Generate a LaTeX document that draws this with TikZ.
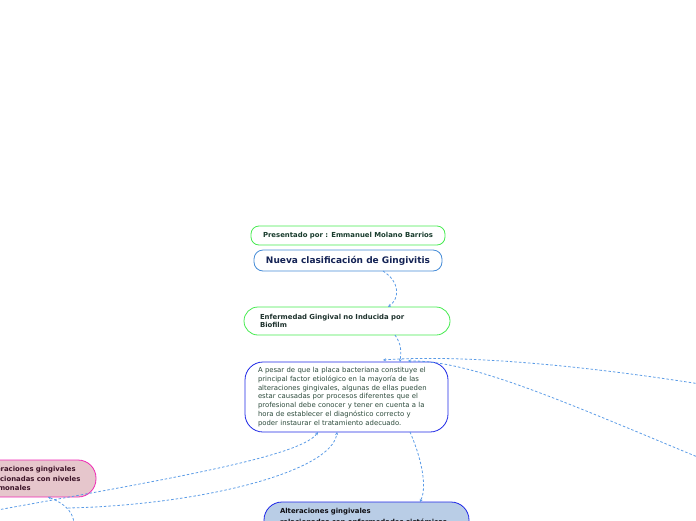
\documentclass[tikz,border=0pt]{standalone}
\usepackage{fontspec}
\setmainfont{DejaVu Sans}
\usetikzlibrary{arrows.meta}
\begin{document}
\begin{tikzpicture}[x=1pt,y=-1pt,line width=0.8pt,
  every node/.style={outer sep=0pt, inner sep=0pt},
  greenbox/.style={draw={rgb,255:red,70;green,235;blue,80},fill=white,rounded corners=8pt},
  linkline/.style={draw={rgb,255:red,90;green,155;blue,230},dash pattern=on 2.5pt off 2pt,-{Stealth[length=3pt,width=3pt]}},
  bodytext/.style={align=left,font=\fontsize{6.9}{8.7}\selectfont}]
\useasboundingbox (0,0) rectangle (696,520);
\clip (0,0) rectangle (696,520);
% titulo
\node[greenbox,minimum width=194pt,minimum height=19pt,font=\bfseries\fontsize{6.9}{8}\selectfont,
  text={rgb,255:red,25;green,60;blue,45}] (autor) at (348,235.5) {Presentado por : Emmanuel Molano Barrios};
\node[draw={rgb,255:red,70;green,140;blue,215},fill=white,rounded corners=9pt,minimum width=188pt,minimum height=21pt,
  font=\bfseries\fontsize{9}{10}\selectfont,text={rgb,255:red,20;green,35;blue,85}] (tema) at (348,260.5) {Nueva clasificación de Gingivitis};
% ramas
\node[greenbox,rounded corners=14pt,minimum width=206pt,minimum height=28pt,inner xsep=16pt,text width=174pt,
  align=left,font=\bfseries\fontsize{6.9}{8.8}\selectfont,text={rgb,255:red,30;green,50;blue,45}] (noinducida) at (347,321)
  {Enfermedad Gingival no Inducida por\\Biofilm};
\node[draw={rgb,255:red,30;green,40;blue,230},fill=white,rounded corners=18pt,minimum width=203pt,minimum height=70pt,
  inner xsep=13pt,text width=177pt,bodytext,text={rgb,255:red,45;green,75;blue,60}] (placa) at (346.5,397)
  {A pesar de que la placa bacteriana constituye el\\principal factor etiológico en la mayoría de las\\alteraciones gingivales, algunas de ellas pueden\\estar causadas por procesos diferentes que el\\profesional debe conocer y tener en cuenta a la\\hora de establecer el diagnóstico correcto y\\poder instaurar el tratamiento adecuado.};
\node[draw={rgb,255:red,240;green,40;blue,180},fill={rgb,255:red,230;green,198;blue,204},rounded corners=18pt,
  minimum width=126pt,minimum height=37pt,inner xsep=15pt,text width=96pt,align=left,
  font=\bfseries\fontsize{6.9}{9.3}\selectfont,text={rgb,255:red,60;green,20;blue,40}] (hormonas) at (33,478.5)
  {Alteraciones gingivales\\relacionadas con niveles\\hormonales};
\node[draw={rgb,255:red,30;green,40;blue,230},fill={rgb,255:red,185;green,205;blue,230},rounded corners=18pt,
  minimum width=205pt,inner xsep=16pt,inner ysep=6.5pt,text depth=22pt,text width=173pt,align=left,anchor=north,
  font=\bfseries\fontsize{6.9}{10.8}\selectfont,text={rgb,255:red,15;green,15;blue,20}] (sistemicas) at (366.5,502)
  {Alteraciones gingivales\\relacionadas con enfermedades sistémicas};
% extremos fuera del cuadro
\coordinate (fueraD1) at (700,384);
\coordinate (fueraD2) at (700,458);
\coordinate (fueraI1) at (-30,515);
\coordinate (fueraI2) at (68,508);
\coordinate (fueraI3) at (74,525);
% conexiones
\draw[linkline] ([xshift=35pt]tema.south) .. controls (400,282) and (400,298) .. ([xshift=41pt]noinducida.north);
\draw[linkline] ([xshift=48pt]noinducida.south) .. controls (402,345) and (401,352) .. ([xshift=53.5pt]placa.north);
\draw[linkline] ([xshift=63.5pt]placa.south) .. controls (420,455) and (428,485) .. ([xshift=53.5pt]sistemicas.north);
\draw[linkline] (fueraD1) .. controls (560,362) and (450,355) .. ([xshift=36.5pt,yshift=2pt]placa.north);
\draw[linkline] (fueraD2) .. controls (560,400) and (470,360) .. ([xshift=61.5pt,yshift=1pt]placa.north);
\draw[linkline] (fueraI1) .. controls (150,482) and (300,458) .. ([xshift=-28.5pt]placa.south);
\draw[linkline] (fueraI2) .. controls (200,505) and (332,472) .. ([xshift=-9.5pt]placa.south);
\draw[linkline] (fueraI3) .. controls (74,508) and (58,501) .. ([xshift=15pt]hormonas.south);
\end{tikzpicture}
\end{document}
